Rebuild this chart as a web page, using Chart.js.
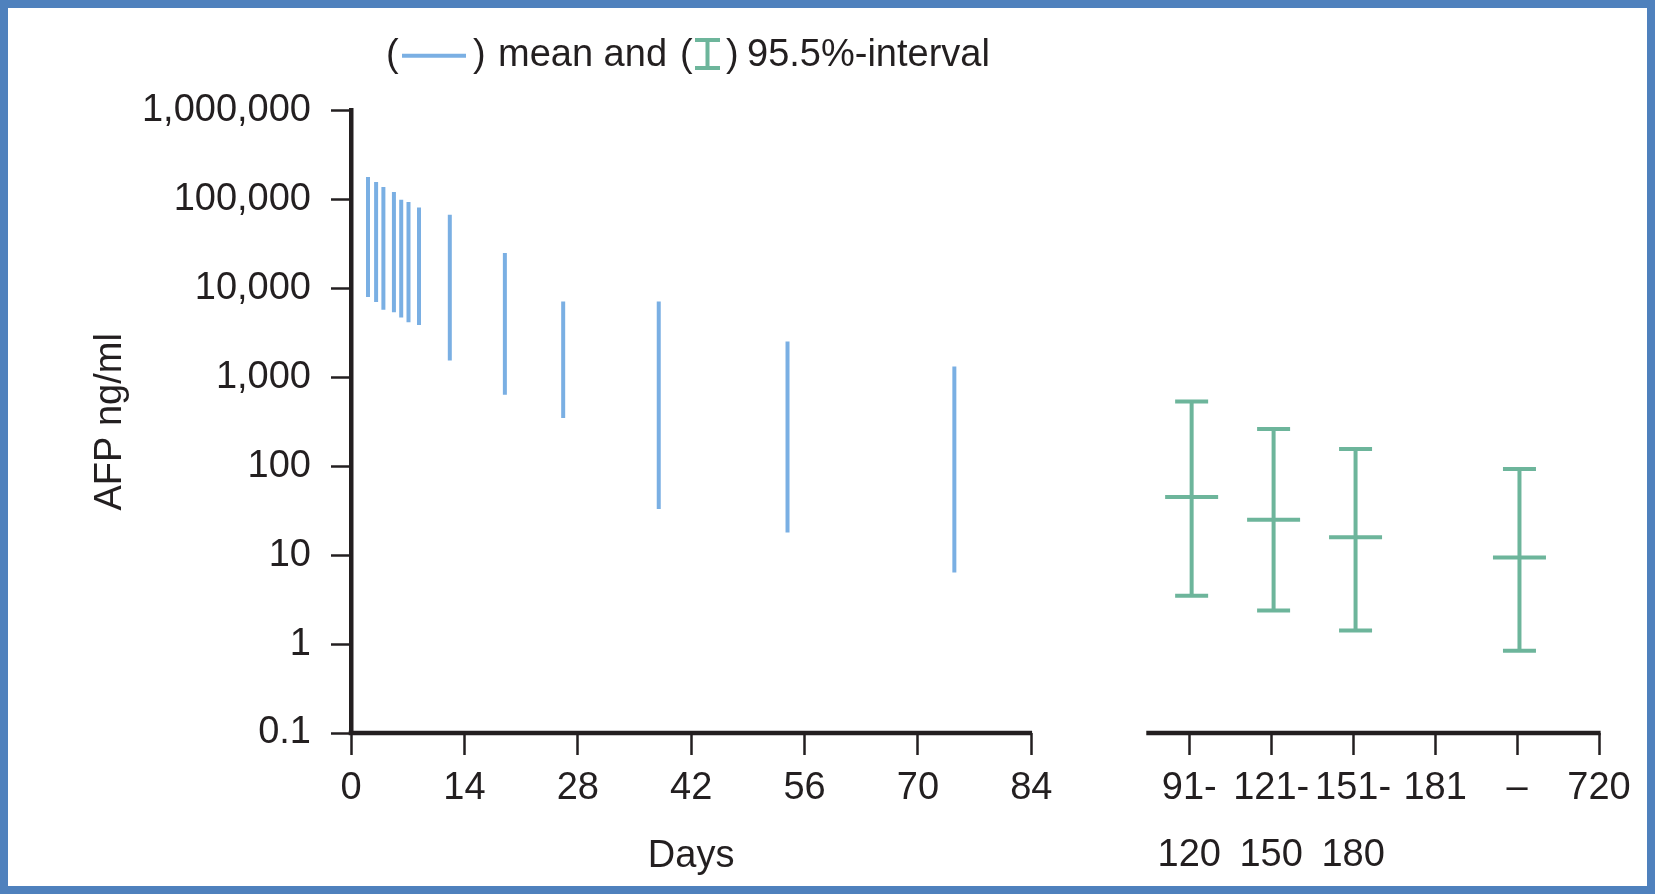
<!DOCTYPE html>
<html><head><meta charset="utf-8">
<script src="https://cdn.jsdelivr.net/npm/chart.js@4"></script>
<style>
html,body{margin:0;padding:0;background:#fff;}
#wrap{position:relative;width:1655px;height:894px;overflow:hidden;background:#fff;}
#c{position:absolute;left:0;top:0;}
#frame{position:absolute;left:0;top:0;width:1655px;height:894px;box-sizing:border-box;border:8px solid #4f81bd;pointer-events:none;}
</style></head><body>
<div id="wrap"><canvas id="c" width="1655" height="894"></canvas><div id="frame"></div></div>
<script>
// ---- data ----
const blueDays = [2.1, 3.1, 4.0, 5.3, 6.2, 7.1, 8.4, 12.2, 19.0, 26.2, 38.0, 53.9, 74.5];
const blueHigh = [179600, 157800, 138700, 121800, 99800, 94000, 81700, 67600, 25100, 7160, 7160, 2540, 1330];
const blueLow  = [8020, 7050, 5780, 5390, 4730, 4160, 3880, 1550, 639, 349, 33.1, 18.0, 6.4];

const greenCats = ['91-120', '121-150', '151-180', '181-720'];
const greenTickIndex = [0, 1, 2, 4];
const greenHigh = [537, 263, 157, 93.3];
const greenMean = [45.2, 25.1, 15.9, 9.45];
const greenLow  = [3.50, 2.38, 1.42, 0.84];

const yTicks = [0.1, 1, 10, 100, 1000, 10000, 100000, 1000000];
const yTickLabels = ['0.1', '1', '10', '100', '1,000', '10,000', '100,000', '1,000,000'];
const leftTicks = [0, 14, 28, 42, 56, 70, 84];
const leftTickLabels = ['0', '14', '28', '42', '56', '70', '84'];
const rightTickLabels = [['91-', '120'], ['121-', '150'], ['151-', '180'], '181', '\u2013', '720'];

const yTitle = 'AFP ng/ml';
const xTitle = 'Days';
const legendText = ['(', ')', 'mean and', '(', ')', '95.5%-interval'];

// ---- layout / style ----
const FONT = "'Liberation Sans', Arial, Helvetica, sans-serif";
const FS = 38;
const INK = '#231f20';
const BLUE = '#7aafe3';
const GREEN = '#6db59b';
const RIGHT_START = 103.5, RIGHT_STEP = 10.12, BAR_SHIFT = 0.3;
const X_AXIS_SEGMENTS = [[-0.28, 84.1], [98.2, 154.3]];
const rightTickPos = rightTickLabels.map((_, i) => RIGHT_START + i * RIGHT_STEP);
const allXTicks = leftTicks.concat(rightTickPos);
const allXLabels = leftTickLabels.concat(rightTickLabels);
const greenX = greenTickIndex.map(i => rightTickPos[i] + BAR_SHIFT);

function rangeSeries(xs, lo, hi) {
  const out = [];
  xs.forEach((x, i) => { out.push({x, y: lo[i]}, {x, y: hi[i]}, {x, y: null}); });
  return out;
}

const decorPlugin = {
  id: 'decor',
  afterDraw(chart) {
    const ctx = chart.ctx;
    const xs = chart.scales.x;
    const yb = chart.chartArea.bottom;
    ctx.save();
    // broken x axis line
    ctx.strokeStyle = INK; ctx.lineWidth = 4.5; ctx.lineCap = 'butt';
    X_AXIS_SEGMENTS.forEach(([a, b]) => {
      ctx.beginPath();
      ctx.moveTo(xs.getPixelForValue(a), yb);
      ctx.lineTo(xs.getPixelForValue(b), yb);
      ctx.stroke();
    });
    // x title centred under the day segment
    ctx.fillStyle = INK;
    ctx.font = FS + 'px ' + FONT;
    ctx.textAlign = 'center'; ctx.textBaseline = 'middle';
    ctx.fillText(xTitle, xs.getPixelForValue(42), yb + 124);
    // header legend
    ctx.textAlign = 'left'; ctx.textBaseline = 'alphabetic';
    const base = 65.5;
    ctx.fillText(legendText[0], 386, base);
    ctx.strokeStyle = BLUE; ctx.lineWidth = 4;
    ctx.beginPath(); ctx.moveTo(402, 55.7); ctx.lineTo(466, 55.7); ctx.stroke();
    ctx.fillText(legendText[1], 473, base);
    ctx.fillText(legendText[2], 498, base);
    ctx.fillText(legendText[3], 680, base);
    ctx.strokeStyle = GREEN; ctx.lineWidth = 4;
    ctx.beginPath();
    ctx.moveTo(695, 40); ctx.lineTo(720, 40);
    ctx.moveTo(707.5, 40); ctx.lineTo(707.5, 68);
    ctx.moveTo(695, 68); ctx.lineTo(720, 68);
    ctx.stroke();
    ctx.fillText(legendText[4], 726, base);
    ctx.fillText(legendText[5], 747, base);
    ctx.restore();
  }
};

new Chart(document.getElementById('c'), {
  type: 'scatter',
  data: {
    datasets: [
      { label: 'mean', data: rangeSeries(blueDays, blueLow, blueHigh), showLine: true, spanGaps: false,
        borderColor: BLUE, borderWidth: 4, borderCapStyle: 'butt', pointRadius: 0, pointHoverRadius: 0 },
      { label: '95.5%-interval', data: rangeSeries(greenX, greenLow, greenHigh), showLine: true, spanGaps: false,
        borderColor: GREEN, borderWidth: 4, borderCapStyle: 'butt', pointRadius: 0, pointHoverRadius: 0 },
      { label: 'caps', data: greenX.map((x, i) => ({x, y: greenLow[i]})).concat(greenX.map((x, i) => ({x, y: greenHigh[i]}))),
        showLine: false, pointStyle: 'line', pointRadius: 16.5, pointBorderWidth: 4,
        pointBorderColor: GREEN, pointBackgroundColor: GREEN, borderColor: GREEN, pointHoverRadius: 16.5 },
      { label: 'interval mean', data: greenX.map((x, i) => ({x, y: greenMean[i]})),
        showLine: false, pointStyle: 'line', pointRadius: 26.5, pointBorderWidth: 4,
        pointBorderColor: GREEN, pointBackgroundColor: GREEN, borderColor: GREEN, pointHoverRadius: 26.5 }
    ]
  },
  options: {
    responsive: false,
    animation: false,
    events: [],
    layout: { padding: { top: 110.7, left: 0, right: 56, bottom: 0 } },
    plugins: { legend: { display: false }, tooltip: { enabled: false } },
    scales: {
      x: {
        type: 'linear', position: 'bottom', min: 0, max: 154.1,
        afterBuildTicks: s => { s.ticks = allXTicks.map(v => ({value: v})); },
        afterFit: s => { s.height = 161; },
        grid: { drawOnChartArea: false, drawTicks: true, tickLength: 22, tickWidth: 2.5, tickColor: INK },
        border: { display: false },
        ticks: { autoSkip: false, maxRotation: 0, minRotation: 0, padding: 0, color: INK,
                 font: { family: FONT, size: FS, lineHeight: 1.76 },
                 callback: (v, i) => allXLabels[i] }
      },
      y: {
        type: 'logarithmic', position: 'left', min: 0.1, max: 1000000,
        afterBuildTicks: s => { s.ticks = yTicks.map(v => ({value: v, major: true})); },
        afterFit: s => { s.width = 351; },
        grid: { drawOnChartArea: false, drawTicks: true, tickLength: 20, tickWidth: 2.5, tickColor: INK },
        border: { display: true, width: 4.5, color: INK },
        ticks: { padding: 20, color: INK, font: { family: FONT, size: FS },
                 callback: (v, i) => yTickLabels[i] },
        title: { display: true, text: yTitle, color: INK, font: { family: FONT, size: FS, lineHeight: 1.2 },
                 padding: { top: 88, bottom: 0 } }
      }
    }
  },
  plugins: [decorPlugin]
});
</script>
</body></html>
